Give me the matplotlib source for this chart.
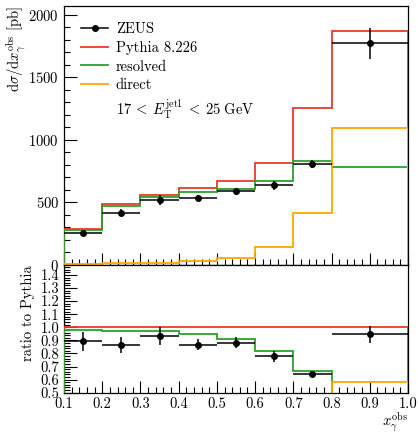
import matplotlib
matplotlib.use("Agg")
import matplotlib.pyplot as plt
from matplotlib.lines import Line2D
from matplotlib.ticker import MultipleLocator, FormatStrFormatter
import numpy as np

# x_gamma^obs bins
edges = [0.1, 0.2, 0.3, 0.4, 0.5, 0.6, 0.7, 0.8, 1.0]

# predictions [pb]
pythia = [285, 484, 558, 618, 668, 818, 1256, 1874]
resolved = [279, 472, 540, 585, 607, 672, 835, 786]
direct = [8, 12, 16, 30, 56, 141, 416, 1093]

# ZEUS data
zeus_x = [0.15, 0.25, 0.35, 0.45, 0.55, 0.65, 0.75, 0.9]
zeus = [254, 418, 520, 536, 590, 636, 806, 1772]
zeus_err = [20, 29, 39, 27, 29, 33, 31, 122]

x_ticks = [0.1, 0.2, 0.3, 0.4, 0.5, 0.6, 0.7, 0.8, 0.9, 1.0]

plt.rcParams['font.family'] = 'serif'
plt.rcParams['font.serif'] = ['cmr10']
plt.rcParams['mathtext.fontset'] = 'cm'
plt.rcParams['axes.formatter.use_mathtext'] = True
plt.rcParams['font.size'] = 10.5

red = '#e8392b'
green = '#2ca02c'
orange = '#ffa500'

edges_a = np.array(edges)
xerr = np.diff(edges_a) / 2
pyth = np.array(pythia, dtype=float)

fig = plt.figure(figsize=(4.18, 4.32), dpi=100)
ax = fig.add_axes([0.1531, 0.3866, 0.823, 0.5995])
axr = fig.add_axes([0.1531, 0.0910, 0.823, 0.2956], sharex=ax)

lw = 1.3
ax.stairs(pythia, edges, color=red, lw=lw, zorder=3)
ax.stairs(resolved, edges, color=green, lw=lw, zorder=3)
ax.stairs(direct, edges, color=orange, lw=lw, zorder=3)
ax.errorbar(zeus_x, zeus, yerr=zeus_err, xerr=xerr, fmt='o', color='k',
            ms=4, lw=1.1, capsize=0, zorder=4)

axr.stairs(pyth / pyth, edges, color=red, lw=lw, zorder=3)
axr.stairs(np.array(resolved) / pyth, edges, color=green, lw=lw, zorder=3)
axr.stairs(np.array(direct) / pyth, edges, color=orange, lw=lw, zorder=3)
axr.errorbar(zeus_x, np.array(zeus) / pyth, yerr=np.array(zeus_err) / pyth,
             xerr=xerr, fmt='o', color='k', ms=4, lw=1.1, capsize=0, zorder=4)

handles = [Line2D([], [], color='k', marker='o', ms=4, lw=1.1),
           Line2D([], [], color=red, lw=lw),
           Line2D([], [], color=green, lw=lw),
           Line2D([], [], color=orange, lw=lw),
           Line2D([], [], color='none')]
labels = ['ZEUS', 'Pythia 8.226', 'resolved', 'direct',
          r'$17\:<\:E_{\mathrm{T}}^{\mathrm{jet1}}\:<\:25\ \mathrm{GeV}$']
ax.legend(handles, labels, loc='upper left', frameon=False,
          handlelength=1.9, handletextpad=0.5, labelspacing=0.32,
          borderaxespad=0.75)

ax.set_xlim(0.1, 1.0)
ax.set_ylim(0, 2070)
ax.set_yticks([0, 500, 1000, 1500, 2000])
ax.yaxis.set_minor_locator(MultipleLocator(100))
ax.set_ylabel(r'$\mathrm{d}\sigma/\mathrm{d}x_{\gamma}^{\mathrm{obs}}$ [pb]', loc='top', labelpad=0)
ax.tick_params(labelbottom=False)

axr.set_ylim(0.5, 1.476)
axr.set_yticks(np.arange(0.5, 1.45, 0.1))
axr.yaxis.set_major_formatter(FormatStrFormatter('%.1f'))
axr.yaxis.set_minor_locator(MultipleLocator(0.02))
axr.set_xticks(x_ticks)
axr.xaxis.set_major_formatter(FormatStrFormatter('%.1f'))
axr.xaxis.set_minor_locator(MultipleLocator(0.02))
axr.set_ylabel('ratio to Pythia', loc='top', labelpad=4)
axr.set_xlabel(r'$x_{\gamma}^{\mathrm{obs}}$', loc='right', labelpad=-1)

for a in (ax, axr):
    a.tick_params(which='both', direction='in', top=False, right=False, width=0.8)
    a.tick_params(which='major', length=9)
    a.tick_params(which='minor', length=4)
    for s in a.spines.values():
        s.set_linewidth(0.9)

fig.savefig('out.png', dpi=100)
